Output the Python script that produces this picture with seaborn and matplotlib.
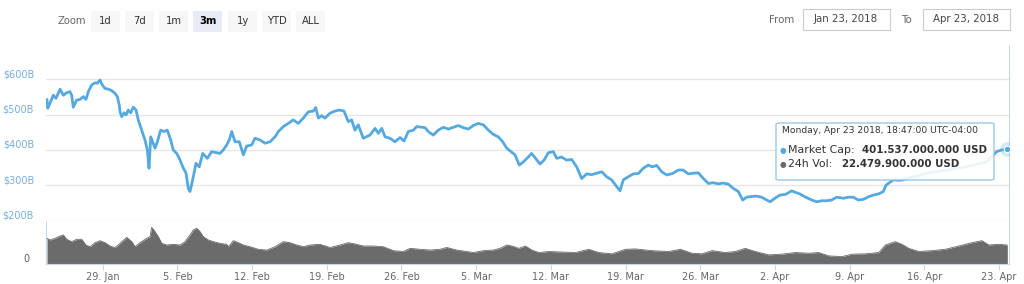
import numpy as np
import pandas as pd
import matplotlib
matplotlib.use("Agg")
import matplotlib.pyplot as plt
from matplotlib.patches import FancyBboxPatch, Rectangle
import seaborn as sns

# ---------------- data ----------------
start_date = "2018-01-23"

cap_days = [0.78, 0.85, 1.06, 1.37, 1.62, 2.00, 2.31, 2.62, 2.93, 3.09, 3.24, 3.56, 3.87, 4.18, 4.43,
            4.65, 4.97, 5.28, 5.49, 5.75, 5.90, 6.21, 6.52, 6.84, 7.15, 7.37, 7.55, 7.62, 7.78, 8.00,
            8.18, 8.40, 8.62, 8.87, 9.12, 9.33, 9.65, 9.96, 10.18, 10.34, 10.50, 10.90, 11.12, 11.43,
            11.74, 12.05, 12.37, 12.61, 12.93, 13.18, 13.50, 13.81, 14.02, 14.18, 14.43, 14.74, 15.05,
            15.37, 15.80, 16.21, 16.99, 17.30, 17.62, 17.86, 18.09, 18.40, 18.80, 19.18, 19.49, 19.96,
            20.27, 20.74, 21.21, 21.68, 22.15, 22.46, 22.92, 23.39, 23.86, 24.33, 24.80, 25.27, 25.74,
            25.96, 26.21, 26.52, 26.83, 27.30, 27.77, 28.17, 28.61, 29.02, 29.33, 29.64, 29.95, 30.42,
            31.05, 31.52, 31.83, 32.15, 32.46, 32.92, 33.39, 33.86, 34.24, 34.64, 35.11, 35.43, 36.21,
            36.51, 36.98, 37.45, 37.92, 38.39, 39.33, 39.79, 40.26, 40.73, 41.20, 41.67, 42.14, 42.61,
            43.07, 43.49, 43.86, 44.64, 45.04, 45.42, 45.89, 46.20, 46.98, 47.36, 47.76, 48.23, 48.55,
            49.00, 49.48, 49.95, 50.42, 50.89, 51.36, 51.83, 52.30, 52.77, 53.23, 53.70, 54.17, 54.48,
            54.79, 55.26, 55.73, 56.20, 56.66, 57.13, 57.50, 57.92, 58.39, 58.86, 59.40, 59.95, 60.40,
            60.88, 61.35, 61.82, 62.29, 62.76, 63.20, 63.69, 64.15, 64.63, 65.10, 65.57, 65.98, 66.35,
            66.80, 67.29, 67.75, 68.23, 68.54, 69.00, 69.47, 70.00, 70.57, 70.90, 71.35, 71.82, 72.45,
            72.92, 73.40, 73.86, 74.30, 74.79, 75.42, 75.89, 76.35, 76.82, 77.30, 77.76, 78.23, 78.69,
            79.16, 79.41, 79.63, 80.10, 80.60, 81.03, 81.50, 81.97, 82.60, 83.22, 84.10, 85.09, 86.00,
            86.97, 88.00, 88.84, 89.30, 89.78, 90.25, 90.78]

market_cap_b = [543, 518, 532, 555, 546, 572, 555, 562, 565, 555, 521, 541, 543, 551, 543,
                565, 584, 590, 589, 598, 587, 574, 572, 568, 560, 551, 527, 508, 494, 505,
                499, 513, 505, 521, 513, 485, 456, 428, 400, 348, 437, 405, 423, 456,
                452, 456, 428, 400, 390, 376, 352, 334, 291, 282, 315, 362, 352,
                390, 376, 395, 390, 400, 414, 428, 452, 423, 423, 386, 411, 414,
                433, 428, 419, 423, 437, 452, 466, 475, 485, 475, 490, 508, 510,
                520, 490, 497, 490, 504, 510, 513, 510, 480, 485, 456, 471, 433,
                442, 461, 447, 461, 437, 433, 423, 435, 425, 452, 456, 466, 463,
                452, 442, 456, 464, 459, 469, 463, 459, 469, 475, 471, 456, 444,
                437, 423, 405, 386, 357, 366, 380, 390, 360, 371, 392, 395, 376,
                380, 371, 373, 352, 319, 332, 330, 334, 338, 324, 315, 296, 284,
                315, 324, 332, 333, 348, 357, 352, 356, 338, 329, 333, 343, 343,
                332, 334, 335, 319, 305, 307, 304, 306, 303, 291, 282, 258, 266,
                268, 269, 266, 258, 253, 263, 272, 274, 284, 280, 275, 267, 258,
                253, 256, 256, 258, 266, 263, 266, 266, 258, 260, 267, 272, 275,
                282, 300, 305, 315, 314, 315, 320, 324, 328, 334, 338, 343, 348,
                352, 360, 366, 380, 395, 400, 401.537]

vol_days = [0.78, 1.06, 1.53, 2.00, 2.31, 2.62, 3.09, 3.56, 4.03, 4.43, 4.81, 5.28, 5.75, 6.21,
            6.68, 7.15, 7.62, 8.25, 8.72, 9.03, 9.49, 10.12, 10.43, 10.59, 10.90, 11.21, 11.53,
            12.00, 12.61, 13.24, 13.71, 14.18, 14.49, 14.81, 15.12, 15.43, 15.90, 16.36, 16.99,
            17.62, 17.77, 18.24, 18.71, 19.18, 19.80, 20.58, 21.37, 22.15, 22.92, 23.55, 24.18,
            24.80, 25.43, 26.36, 27.30, 28.24, 29.02, 29.80, 30.42, 31.36, 32.30, 33.23, 34.17,
            34.80, 35.73, 36.67, 37.61, 38.24, 39.18, 40.11, 40.73, 41.67, 42.61, 43.23, 43.86,
            44.36, 44.99, 45.61, 46.23, 46.86, 47.80, 49.04, 50.29, 51.55, 52.48, 53.73, 54.98,
            55.91, 57.48, 59.04, 60.13, 61.23, 62.16, 63.10, 64.35, 65.28, 66.22, 67.16, 68.42,
            69.66, 70.91, 72.17, 73.10, 74.04, 75.29, 76.22, 77.47, 78.73, 79.35, 80.28, 80.91,
            81.54, 82.47, 83.72, 84.97, 86.22, 87.47, 88.41, 89.04, 89.97, 90.78]

volume_b = [30.3, 28.3, 30.3, 33.0, 34.2, 29.1, 26.4, 29.1, 29.1, 22.5, 20.5, 25.2, 27.5, 25.2,
            21.3, 19.4, 24.4, 31.4, 26.4, 20.5, 25.2, 30.3, 32.2, 43.1, 38.0, 32.2, 24.4,
            22.5, 23.3, 22.5, 26.4, 34.2, 40.0, 42.0, 38.0, 32.2, 28.3, 26.4, 24.4,
            23.3, 20.5, 27.5, 25.2, 22.5, 20.5, 17.5, 16.6, 20.5, 26.4, 25.2, 22.5,
            20.5, 22.5, 23.3, 19.6, 22.5, 25.2, 23.3, 21.3, 21.3, 20.5, 15.9, 14.9,
            18.6, 17.5, 16.6, 17.5, 19.6, 16.6, 14.9, 13.7, 15.9, 16.6, 18.6, 22.5,
            21.3, 18.6, 21.3, 16.6, 13.7, 14.9, 14.3, 13.7, 17.5, 13.7, 12.2, 17.5,
            17.9, 15.9, 14.9, 17.5, 12.9, 12.2, 15.9, 13.7, 14.9, 18.6, 14.9, 11.0,
            11.8, 13.7, 12.9, 13.7, 9.8, 9.0, 11.8, 12.2, 13.7, 22.5, 26.4, 23.3,
            18.6, 14.9, 15.9, 17.5, 21.3, 25.2, 27.5, 22.5, 23.3, 22.48]

tick_dates = ["2018-01-29", "2018-02-05", "2018-02-12", "2018-02-19", "2018-02-26", "2018-03-05",
              "2018-03-12", "2018-03-19", "2018-03-26", "2018-04-02", "2018-04-09", "2018-04-16",
              "2018-04-23"]
tick_labels = ["29. Jan", "5. Feb", "12. Feb", "19. Feb", "26. Feb", "5. Mar", "12. Mar",
               "19. Mar", "26. Mar", "2. Apr", "9. Apr", "16. Apr", "23. Apr"]
price_ticks = [200, 300, 400, 500, 600]
price_labels = ["$200B", "$300B", "$400B", "$500B", "$600B"]
zoom_buttons = ["1d", "7d", "1m", "3m", "1y", "YTD", "ALL"]
selected_button = "3m"
range_from = "Jan 23, 2018"
range_to = "Apr 23, 2018"
tooltip_time = "Monday, Apr 23 2018, 18:47:00 UTC-04:00"
last_market_cap_usd = 401537000000
last_volume_usd = 22479900000

# ---------------- style ----------------
sns.set_theme(style="white")
plt.rcParams["font.family"] = ["DejaVu Sans"]

W, H = 1024, 284
fig = plt.figure(figsize=(W / 100, H / 100), dpi=100)
fig.patch.set_facecolor("white")

LINE = "#55a9df"
VOLC = "#6b6b6b"
GRID = "#e6e6e6"
AXL = "#ccd6eb"
PX = 0.72  # points per pixel at 100 dpi

def fx(x):
    return x / W

def fy(y):
    return 1 - y / H

left_px, right_px = 46, 1008.7
price_top, price_bot = 45, 220.5
vol_top, vol_bot = 220.5, 264.3

ax = fig.add_axes([fx(left_px), fy(price_bot), fx(right_px - left_px), (price_bot - price_top) / H])
axv = fig.add_axes([fx(left_px), fy(vol_bot), fx(right_px - left_px), (vol_bot - vol_top) / H], sharex=ax)

t0 = pd.Timestamp(start_date)
cap_dates = t0 + pd.to_timedelta(cap_days, unit="D")
vol_dates = t0 + pd.to_timedelta(vol_days, unit="D")
df_cap = pd.DataFrame({"date": cap_dates, "cap": market_cap_b})
df_vol = pd.DataFrame({"date": vol_dates, "vol": volume_b})

# price line
sns.lineplot(data=df_cap, x="date", y="cap", ax=ax, color=LINE, linewidth=2.0, zorder=3)
ax.set_ylim(200, 200 + (price_bot - price_top) * 400 / 141.2)
ax.set_yticks(price_ticks)
ax.set_yticklabels(price_labels)
ax.yaxis.grid(True, color=GRID, linewidth=1.0)
ax.xaxis.grid(False)
for s in ["top", "left", "bottom"]:
    ax.spines[s].set_visible(False)
ax.spines["right"].set_color(AXL)
ax.spines["right"].set_linewidth(0.8)
ax.tick_params(axis="y", length=0, pad=12 * PX, labelsize=7, labelcolor="#76aee0")
for lab in ax.get_yticklabels():
    lab.set_verticalalignment("bottom")
ax.tick_params(axis="x", bottom=False, labelbottom=False)
ax.set_xlabel("")
ax.set_ylabel("")

# end marker with halo
last = df_cap.iloc[-1]
ax.scatter([last["date"]], [last["cap"]], s=110, color=LINE, alpha=0.25, zorder=4, linewidths=0)
ax.scatter([last["date"]], [last["cap"]], s=22, color=LINE, edgecolor="white", linewidth=0.8, zorder=5)

# volume area
sns.lineplot(data=df_vol, x="date", y="vol", ax=axv, color=VOLC, linewidth=0.6, zorder=3)
axv.fill_between(df_vol["date"], 0, df_vol["vol"], color=VOLC, linewidth=0, zorder=2)
axv.set_ylim(0, (vol_bot - vol_top) * 1.165)
axv.set_yticks([0])
axv.set_yticklabels(["0"])
axv.tick_params(axis="y", length=0, pad=17 * PX, labelsize=7, labelcolor="#606060")
for lab in axv.get_yticklabels():
    lab.set_verticalalignment("bottom")
axv.yaxis.grid(False)
axv.spines["top"].set_visible(False)
for s in ["left", "bottom", "right"]:
    axv.spines[s].set_color(AXL)
    axv.spines[s].set_linewidth(0.8)
axv.set_xticks(pd.to_datetime(tick_dates))
axv.set_xticklabels(tick_labels)
axv.tick_params(axis="x", length=6 * PX, width=0.8, color=AXL, pad=2 * PX, labelsize=7,
                labelcolor="#666666", bottom=True)
axv.set_xlabel("")
axv.set_ylabel("")
axv.set_xlim(t0 + pd.Timedelta(days=0.684), t0 + pd.Timedelta(days=90.91))

# ---------------- range selector ----------------
fig.text(fx(57), fy(21), "Zoom", fontsize=7.2, color="#666666", va="center", ha="left")
btn_x = [91, 125, 159, 193, 228, 262, 296]
btn_w = 29
for lbl, bx in zip(zoom_buttons, btn_x):
    sel = lbl == selected_button
    fig.patches.append(Rectangle((fx(bx), fy(31.5)), fx(btn_w), 20 / H, transform=fig.transFigure,
                                 facecolor="#e6ebf5" if sel else "#f7f7f7", edgecolor="none"))
    fig.text(fx(bx + btn_w / 2), fy(21), lbl, fontsize=7.2, color="#333333" if not sel else "#000000",
             fontweight="bold" if sel else "normal", ha="center", va="center")

fig.text(fx(769), fy(20), "From", fontsize=7.4, color="#666666", va="center", ha="left")
fig.patches.append(Rectangle((fx(802.5), fy(30)), fx(87.5), 21.5 / H, transform=fig.transFigure,
                             facecolor="white", edgecolor="#cccccc", linewidth=0.8))
fig.text(fx(846), fy(19.5), range_from, fontsize=7.4, color="#444444", va="center", ha="center")
fig.text(fx(901), fy(20), "To", fontsize=7.4, color="#666666", va="center", ha="left")
fig.patches.append(Rectangle((fx(922.5), fy(30)), fx(87), 21.5 / H, transform=fig.transFigure,
                             facecolor="white", edgecolor="#cccccc", linewidth=0.8))
fig.text(fx(966), fy(19.5), range_to, fontsize=7.4, color="#444444", va="center", ha="center")

# ---------------- tooltip ----------------
def dotted(n):
    return f"{n:,}".replace(",", ".")

tip = FancyBboxPatch((fx(776), fy(180)), fx(218), 57 / H, boxstyle="round,pad=0,rounding_size=0.004",
                     transform=fig.transFigure, facecolor="white", alpha=0.88,
                     edgecolor="#8cc0e8", linewidth=1.0, zorder=10)
fig.patches.append(tip)
fig.text(fx(782), fy(131), tooltip_time, fontsize=6.6, color="#333333", va="center", ha="left", zorder=11)
fig.text(fx(783), fy(150), "\u25CF", fontsize=5.5, color=LINE, va="center", ha="center", zorder=11)
fig.text(fx(788.5), fy(150), "Market Cap:", fontsize=7.9, color="#333333", va="center", ha="left", zorder=11)
fig.text(fx(862), fy(150), f"{dotted(last_market_cap_usd)} USD", fontsize=7.4, fontweight="bold",
         color="#333333", va="center", ha="left", zorder=11)
fig.text(fx(783), fy(164), "\u25CF", fontsize=5.5, color=VOLC, va="center", ha="center", zorder=11)
fig.text(fx(788.5), fy(164), "24h Vol:", fontsize=7.9, color="#333333", va="center", ha="left", zorder=11)
fig.text(fx(842), fy(164), f"{dotted(last_volume_usd)} USD", fontsize=7.4, fontweight="bold",
         color="#333333", va="center", ha="left", zorder=11)

fig.savefig("out.png", dpi=100, facecolor="white")
